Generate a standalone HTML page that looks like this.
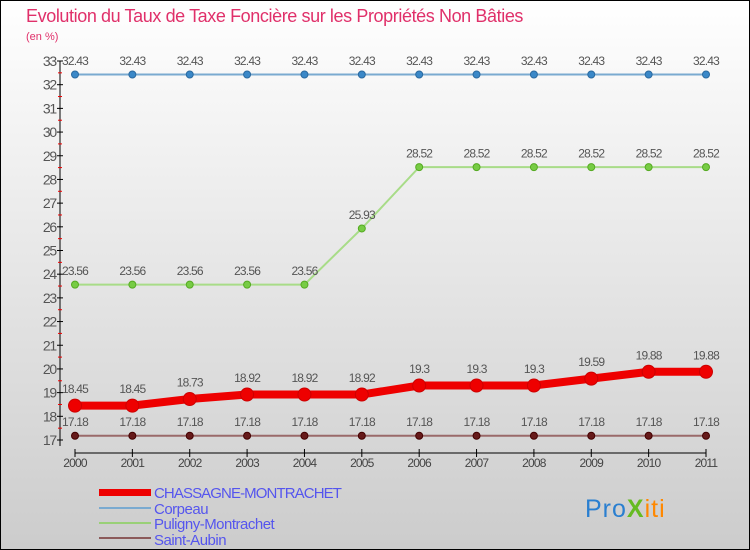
<!DOCTYPE html>
<html><head><meta charset="utf-8"><style>
body{margin:0;width:750px;height:550px;overflow:hidden;font-family:"Liberation Sans",sans-serif}
svg{display:block}
</style></head><body>
<svg id="chart" width="750" height="550" xmlns="http://www.w3.org/2000/svg">
<defs><linearGradient id="bg" x1="0" y1="0" x2="0" y2="1"><stop offset="0" stop-color="#ffffff"/><stop offset="1" stop-color="#cccccc"/></linearGradient></defs>
<rect x="0" y="0" width="750" height="550" fill="url(#bg)"/>
<rect x="0.5" y="0.5" width="749" height="549" fill="none" stroke="#000"/>
<text x="26" y="22" font-size="18" fill="#e0306a" letter-spacing="-0.4">Evolution du Taux de Taxe Foncière sur les Propriétés Non Bâties</text>
<text x="26" y="40" font-size="11" fill="#e0306a">(en %)</text>
<g id="axes"></g>
<g id="series"></g>
<g font-size="15" fill="#5555ee">
<rect x="99" y="489" width="52" height="7" fill="#ee0000"/>
<text x="154" y="498" letter-spacing="-0.9">CHASSAGNE-MONTRACHET</text>
<line x1="99" y1="508" x2="151" y2="508" stroke="#7aaad0" stroke-width="2"/>
<text x="154" y="514" letter-spacing="-0.5">Corpeau</text>
<line x1="99" y1="523" x2="151" y2="523" stroke="#99d077" stroke-width="2"/>
<text x="154" y="529" letter-spacing="-0.5">Puligny-Montrachet</text>
<line x1="99" y1="538" x2="151" y2="538" stroke="#8b5a5a" stroke-width="2"/>
<text x="154" y="545" letter-spacing="-0.5">Saint-Aubin</text>
</g>
<text x="585" y="517" font-size="25" letter-spacing="1"><tspan fill="#2a7fd0">Pro</tspan><tspan fill="#66bb22" font-weight="bold">X</tspan><tspan fill="#ff8800">iti</tspan></text>
</svg>
<script>
const years=[2000,2001,2002,2003,2004,2005,2006,2007,2008,2009,2010,2011];
const chassagne=[18.45,18.45,18.73,18.92,18.92,18.92,19.3,19.3,19.3,19.59,19.88,19.88];
const corpeau=[32.43,32.43,32.43,32.43,32.43,32.43,32.43,32.43,32.43,32.43,32.43,32.43];
const puligny=[23.56,23.56,23.56,23.56,23.56,25.93,28.52,28.52,28.52,28.52,28.52,28.52];
const saintAubin=[17.18,17.18,17.18,17.18,17.18,17.18,17.18,17.18,17.18,17.18,17.18,17.18];
const yTicks=[17,18,19,20,21,22,23,24,25,26,27,28,29,30,31,32,33];
const NS="http://www.w3.org/2000/svg";
const x0=75,x1=706,yMin=17,yMax=33,py0=440,py1=61;
const X=i=>x0+i*(x1-x0)/(years.length-1);
const Y=v=>py0-(v-yMin)*(py0-py1)/(yMax-yMin);
function mk(tag,attrs,parent,txt){const e=document.createElementNS(NS,tag);for(const k in attrs)e.setAttribute(k,attrs[k]);if(txt!==undefined)e.textContent=txt;parent.appendChild(e);return e;}
const ax=document.getElementById('axes');
let l=mk('line',{x1:60,y1:py1,x2:60,y2:py0+6,stroke:'#000'},ax);


yTicks.forEach(t=>{const y=Y(t);
 mk('line',{x1:57,y1:y,x2:63,y2:y,stroke:'#000'},ax);
 if(t<yMax){mk('line',{x1:58,y1:Y(t+0.5),x2:62,y2:Y(t+0.5),stroke:'#e00'},ax);}
 const tx=mk('text',{x:56,y:y+5,'font-size':14,fill:'#555','text-anchor':'end','letter-spacing':'-1.2'},ax,String(t));
 
 
});
l=mk('line',{x1:x0,y1:453,x2:x1,y2:453,stroke:'#000'},ax);


years.forEach((yr,i)=>{mk('line',{x1:X(i),y1:449,x2:X(i),y2:457,stroke:'#000'},ax);
 const tx=mk('text',{x:X(i),y:467,'font-size':12,fill:'#444','text-anchor':'middle','letter-spacing':'-0.8'},ax,String(yr));
 
 
});
const sg=document.getElementById('series');
function series(name,vals,color,lw,r,dot,dotStroke){
 const g=mk('g',{},sg);
 
 
 const p=mk('polyline',{points:vals.map((v,i)=>X(i)+','+Y(v)).join(' '),fill:'none',stroke:color,'stroke-width':lw},g);
 
 
 vals.forEach((v,i)=>{
  const c=mk('circle',{cx:X(i),cy:Y(v),r:r,fill:dot,stroke:dotStroke,'stroke-width':1},g);
  
  
  const t=mk('text',{x:X(i),y:Y(v)-(r+6),'font-size':12,fill:'#555','text-anchor':'middle','letter-spacing':'-0.8'},g,String(v));
  
  
 });
}
series('corpeau',corpeau,'#7aaad0',2,3.5,'#3a88c8','#2a6aa0');
series('puligny',puligny,'#a8dc88',2,3.5,'#77cc44','#55aa22');
series('saint-aubin',saintAubin,'#9a6a6a',2,3.5,'#661a1a','#440000');
series('chassagne',chassagne,'#ee0000',8,6.5,'#ee0000','#cc0000');
</script>
</body></html>
